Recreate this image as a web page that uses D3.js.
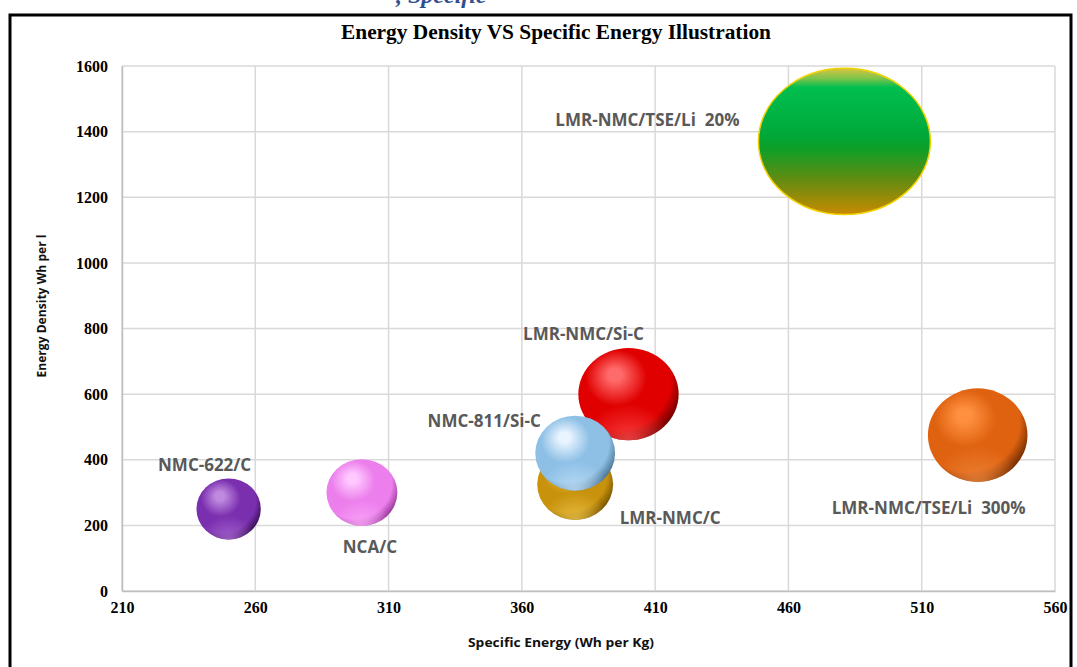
<!DOCTYPE html>
<html>
<head>
<meta charset="utf-8">
<script src="https://cdn.jsdelivr.net/npm/d3@7/dist/d3.min.js"></script>
<style>
  html, body { margin: 0; padding: 0; background: #ffffff; }
  svg { display: block; }
  .label { white-space: pre; }
</style>
</head>
<body>
<svg id="chart" width="1077" height="667"></svg>
<script>
// ---- data ----
const categories     = ["NMC-622/C", "NCA/C", "LMR-NMC/C", "LMR-NMC/Si-C", "NMC-811/Si-C", "LMR-NMC/TSE/Li  300%", "LMR-NMC/TSE/Li  20%"];
const specificEnergy = [250, 300, 380, 400, 380, 531, 481];     // Wh per Kg
const energyDensity  = [250, 300, 325, 600, 420, 475, 1370];    // Wh per l
const bubbleSize     = [14, 17, 19.5, 34, 21.5, 33.5, 100];
const xTickValues    = [210, 260, 310, 360, 410, 460, 510, 560];
const yTickValues    = [0, 200, 400, 600, 800, 1000, 1200, 1400, 1600];

// ---- per-series look: sphere shading and label placement (px offset from centre) ----
const looks = {
  "NMC-622/C":            { hi: "#c08ae0", base: "#7a2fae", dark: "#2e0a45", rim: "#b070d8", squash: 0.95, lx: -24, ly: -44 },
  "NCA/C":                { hi: "#ffc8ff", base: "#ec7fec", dark: "#8a2a8a", rim: "#ffb0ff", squash: 0.94, lx: 8,   ly: 54 },
  "LMR-NMC/C":            { hi: "#f0c440", base: "#c8920c", dark: "#6a4a00", rim: "#f0c850", squash: 0.94, lx: 95,  ly: 34 },
  "LMR-NMC/Si-C":         { hi: "#ff6a6a", base: "#e00000", dark: "#5a0000", rim: "#ff5050", squash: 0.92, lx: -45, ly: -60 },
  "NMC-811/Si-C":         { hi: "#e8f4ff", base: "#8ec0e6", dark: "#3f6886", rim: "#c8e4fa", squash: 0.94, lx: -91, ly: -32 },
  "LMR-NMC/TSE/Li  300%": { hi: "#ff9040", base: "#df6210", dark: "#5e2300", rim: "#f08a40", squash: 0.94, lx: -49, ly: 73 },
  "LMR-NMC/TSE/Li  20%":  { flat: true, squash: 0.85, lx: -197, ly: -21 }
};

const W = 1077, H = 667;
const plot = { left: 122, right: 1055, top: 66, bottom: 591 };

const svg = d3.select("#chart");
const defs = svg.append("defs");

// background and frame
svg.append("rect").attr("width", W).attr("height", H).attr("fill", "#ffffff");
svg.append("rect")
  .attr("x", 10).attr("y", 15).attr("width", 1061).attr("height", 700)
  .attr("fill", "none").attr("stroke", "#000").attr("stroke-width", 3);

// caption line running above the frame
svg.append("text")
  .attr("x", 396).attr("y", 3)
  .attr("font-family", "'Liberation Serif', serif")
  .attr("font-style", "italic").attr("font-weight", "bold")
  .attr("font-size", 24).attr("fill", "#2f4f8f")
  .text(", Specific");

// ---- scales ----
const x = d3.scaleLinear().domain([210, 560]).range([plot.left, plot.right]);
const y = d3.scaleLinear().domain([0, 1600]).range([plot.bottom, plot.top]);
const r = d3.scaleSqrt().domain([0, 100]).range([0, 86]);

// ---- gridlines ----
const grid = svg.append("g").attr("stroke", "#d9d9d9").attr("stroke-width", 1.5);
grid.selectAll(".gx").data(xTickValues).join("line")
  .attr("x1", d => x(d)).attr("x2", d => x(d))
  .attr("y1", plot.top).attr("y2", plot.bottom);
grid.selectAll(".gy").data(yTickValues).join("line")
  .attr("x1", plot.left).attr("x2", plot.right)
  .attr("y1", d => y(d)).attr("y2", d => y(d));

// ---- axes ----
const xAxis = svg.append("g")
  .attr("transform", `translate(0,${plot.bottom})`)
  .call(d3.axisBottom(x).tickValues(xTickValues).tickSize(0).tickPadding(11).tickFormat(d3.format("d")));
xAxis.select(".domain").attr("stroke", "#bfbfbf").attr("stroke-width", 1.5);
xAxis.selectAll("text")
  .attr("font-family", "'Liberation Serif', serif").attr("font-weight", "bold")
  .attr("font-size", 16).attr("fill", "#000");

const yAxis = svg.append("g")
  .attr("transform", `translate(${plot.left},0)`)
  .call(d3.axisLeft(y).tickValues(yTickValues).tickSize(0).tickPadding(14).tickFormat(d3.format("d")));
yAxis.select(".domain").attr("stroke", "#bfbfbf").attr("stroke-width", 1.5);
yAxis.selectAll("text")
  .attr("font-family", "'Liberation Serif', serif").attr("font-weight", "bold")
  .attr("font-size", 16).attr("fill", "#000");

// ---- titles ----
svg.append("text")
  .attr("x", 556).attr("y", 39).attr("text-anchor", "middle")
  .attr("font-family", "'Liberation Serif', serif").attr("font-weight", "bold")
  .attr("font-size", 20).attr("fill", "#000")
  .attr("textLength", 430).attr("lengthAdjust", "spacingAndGlyphs")
  .text("Energy Density VS Specific Energy Illustration");

svg.append("text")
  .attr("x", 561).attr("y", 647).attr("text-anchor", "middle")
  .attr("font-family", "'Open Sans', sans-serif").attr("font-weight", "bold")
  .attr("font-size", 13).attr("fill", "#111")
  .attr("textLength", 186).attr("lengthAdjust", "spacingAndGlyphs")
  .text("Specific Energy (Wh per Kg)");

svg.append("text")
  .attr("transform", "translate(46,306) rotate(-90)").attr("text-anchor", "middle")
  .attr("font-family", "'Open Sans', sans-serif").attr("font-weight", "bold")
  .attr("font-size", 13).attr("fill", "#111")
  .attr("textLength", 143).attr("lengthAdjust", "spacingAndGlyphs")
  .text("Energy Density Wh per l");

// ---- bubble shading ----
const data = categories.map((name, i) => ({
  name, sx: specificEnergy[i], ed: energyDensity[i], size: bubbleSize[i], i
}));

data.forEach(d => {
  const lk = looks[d.name];
  if (lk.flat) {
    const g = defs.append("linearGradient").attr("id", "fill" + d.i)
      .attr("x1", 0).attr("y1", 0).attr("x2", 0).attr("y2", 1);
    [["0%", "#d8c440"], ["7%", "#7cc44c"], ["13%", "#00bf4f"], ["45%", "#00a93a"],
     ["55%", "#0d9f28"], ["75%", "#5e8c12"], ["100%", "#c98a00"]]
      .forEach(([o, c]) => g.append("stop").attr("offset", o).attr("stop-color", c));
  } else {
    const g = defs.append("radialGradient").attr("id", "fill" + d.i)
      .attr("cx", "40%").attr("cy", "38%").attr("r", "68%")
      .attr("fx", "36%").attr("fy", "28%");
    [["0%", lk.hi], ["10%", lk.hi], ["45%", lk.base], ["78%", lk.base], ["100%", lk.dark]]
      .forEach(([o, c]) => g.append("stop").attr("offset", o).attr("stop-color", c));
    const rim = defs.append("radialGradient").attr("id", "rim" + d.i)
      .attr("cx", "50%").attr("cy", "105%").attr("r", "45%");
    rim.append("stop").attr("offset", "0%").attr("stop-color", lk.rim).attr("stop-opacity", 0.85);
    rim.append("stop").attr("offset", "100%").attr("stop-color", lk.rim).attr("stop-opacity", 0);
  }
});

const bubbles = svg.append("g").selectAll("g").data(data).join("g")
  .attr("transform", d => `translate(${x(d.sx)},${y(d.ed)})`);

bubbles.append("ellipse")
  .attr("rx", d => r(d.size))
  .attr("ry", d => r(d.size) * looks[d.name].squash)
  .attr("fill", d => `url(#fill${d.i})`)
  .attr("stroke", d => looks[d.name].flat ? "#f2d100" : "none")
  .attr("stroke-width", 1.5);

bubbles.filter(d => !looks[d.name].flat).append("ellipse")
  .attr("rx", d => r(d.size))
  .attr("ry", d => r(d.size) * looks[d.name].squash)
  .attr("fill", d => `url(#rim${d.i})`);

// ---- bubble labels ----
svg.append("g").selectAll("text").data(data).join("text")
  .attr("class", "label")
  .attr("x", d => x(d.sx) + looks[d.name].lx)
  .attr("y", d => y(d.ed) + looks[d.name].ly)
  .attr("dy", "0.35em")
  .attr("text-anchor", "middle")
  .attr("font-family", "'Open Sans', sans-serif").attr("font-weight", "bold")
  .attr("font-size", 17).attr("fill", "#595959")
  .text(d => d.name);
</script>
</body>
</html>
